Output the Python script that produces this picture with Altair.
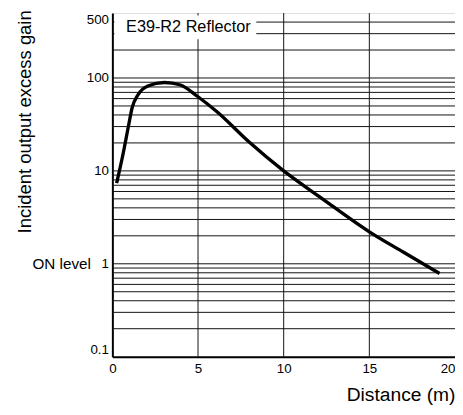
import altair as alt
import pandas as pd

# Curve: distance (m) vs incident output excess gain
dist = [0.25, 0.63, 0.96, 1.15, 1.49, 2.07, 3.03, 3.98, 4.94, 6.09,
        8.0, 10.0, 12.2, 15.0, 17.0, 19.1]
gain = [7.4, 15.4, 31.8, 47.5, 65.6, 82, 89.5, 84, 64, 43.5,
        20.3, 10, 5.1, 2.21, 1.33, 0.785]

x_ticks = [0, 5, 10, 15, 20]
y_ticks = [0.1, 1, 10, 100, 500]
x_grid = [5, 10, 15]
y_grid = [0.2, 0.3, 0.4, 0.5, 0.6, 0.7, 0.8, 0.9,
          1, 2, 3, 4, 5, 6, 7, 8, 9,
          10, 20, 30, 40, 50, 60, 70, 80, 90,
          100, 200, 300, 400]

label_text = ["E39-R2 Reflector"]
label_x = [0.8]
label_y = [357]
on_text = ["ON level"]
on_x = [-1.25]
on_y = [1.0]

box_x = [0.12]
box_x2 = [8.4]
box_y = [262]
box_y2 = [470]

FONT = "Liberation Sans"

xscale = alt.Scale(domain=[0, 20], nice=False, zero=False)
yscale = alt.Scale(type="log", domain=[0.1, 500], nice=False)

x_axis = alt.Axis(values=x_ticks, title="Distance (m)", grid=False, ticks=False,
                  domainColor="black", domainWidth=2, labelFont=FONT, labelFontSize=13.5,
                  labelColor="black", labelPadding=5,
                  labelAlign={"condition": {"test": "datum.value >= 20", "value": "right"}, "value": "center"},
                  titleFont=FONT, titleFontSize=19.5, titleFontWeight="normal", titleColor="black",
                  titleAnchor="end", titleAlign="right", titleBaseline="alphabetic",
                  titleX=348, titleY=45)
y_axis = alt.Axis(values=y_ticks, format="~g", title="Incident output excess gain", grid=False,
                  ticks=False, domainColor="black", domainWidth=2, labelFont=FONT,
                  labelFontSize=13.5, labelColor="black", labelPadding=4, labelFlush=True,
                  titleFont=FONT, titleFontSize=18.7, titleFontWeight="normal", titleColor="black",
                  titleAngle=-90, titleAlign="center", titleBaseline="alphabetic",
                  titleX=-83, titleY=110)

def X(field="x"):
    return alt.X(f"{field}:Q", scale=xscale, axis=x_axis)

def Y(field="y"):
    return alt.Y(f"{field}:Q", scale=yscale, axis=y_axis)

hgrid = alt.Chart(pd.DataFrame({"y": y_grid})).mark_rule(color="#111", strokeWidth=1).encode(y=Y())
vgrid = alt.Chart(pd.DataFrame({"x": x_grid})).mark_rule(color="#111", strokeWidth=1).encode(x=X())

box = alt.Chart(pd.DataFrame({"x": box_x, "x2": box_x2, "y": box_y, "y2": box_y2})).mark_rect(
    color="white").encode(x=X(), x2="x2:Q", y=Y(), y2="y2:Q")

label = alt.Chart(pd.DataFrame({"x": label_x, "y": label_y, "t": label_text})).mark_text(
    align="left", baseline="middle", font=FONT, fontSize=16.5, color="black").encode(
    x=X(), y=Y(), text="t:N")

on_label = alt.Chart(pd.DataFrame({"x": on_x, "y": on_y, "t": on_text})).mark_text(
    align="right", baseline="middle", font=FONT, fontSize=15.5, color="black", clip=False).encode(
    x=X(), y=Y(), text="t:N")

curve = alt.Chart(pd.DataFrame({"x": dist, "y": gain})).mark_line(
    color="black", strokeWidth=3.4, interpolate="monotone").encode(x=X(), y=Y())

chart = alt.layer(hgrid, vgrid, box, label, on_label, curve).properties(
    width=348, height=349,
    autosize=alt.AutoSizeParams(type="none"),
    padding={"left": 106, "top": 2, "right": 0, "bottom": 50},
).configure_view(stroke="black", strokeWidth=2).configure(background="white")

chart.save("out.html", embed_options={"renderer": "svg", "actions": False})
